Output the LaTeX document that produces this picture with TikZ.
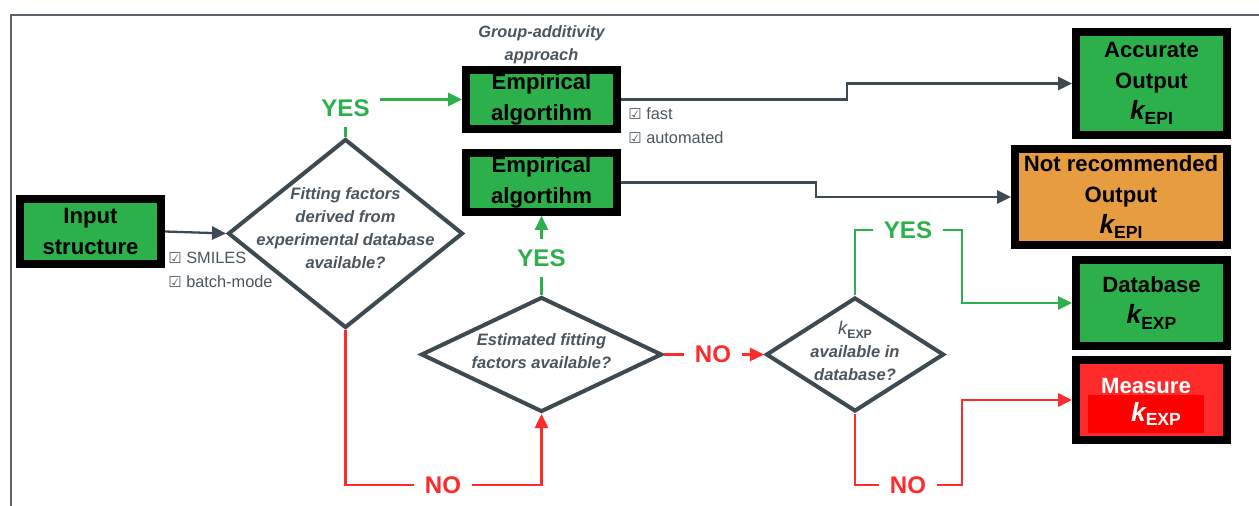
\documentclass[tikz,border=0pt]{standalone}
\usepackage{fontspec}
\setmainfont{Liberation Sans}
\newfontfamily\checkfont{DejaVu Sans}
\usetikzlibrary{positioning,shapes.geometric,arrows.meta}

\definecolor{boxgreen}{HTML}{2CB04B}
\definecolor{boxorange}{HTML}{E89C40}
\definecolor{boxred}{HTML}{FF2B2B}
\definecolor{kred}{HTML}{FF0000}
\definecolor{linegray}{HTML}{3E4A52}
\definecolor{textgray}{HTML}{4A555D}
\definecolor{framegray}{HTML}{5B646A}
\definecolor{yesgreen}{HTML}{2DB04B}
\definecolor{nored}{HTML}{FF2A2A}

\newcommand{\kval}[1]{{\fontsize{15}{15}\selectfont\bfseries\itshape k}\raisebox{-0.45ex}{\fontsize{10}{10}\selectfont\bfseries #1}}
\newcommand{\ticked}{{\checkfont\fontsize{8.5}{8.5}\selectfont ☑}}

\begin{document}
\begin{tikzpicture}[
  x = 0.02cm, y = -0.02cm,
  >={Triangle[length=8pt, width=7.5pt]},
  block/.style = {
    draw=black, rectangle, line width=4.5pt,
    fill=boxgreen, inner sep=0pt,
    align=center,
    font=\fontsize{12.6}{17.6}\selectfont\bfseries
  },
  decision/.style = {draw=linegray, diamond, line width=2.3pt, inner sep=0pt},
  question/.style = {text=textgray, align=center, font=\fontsize{9.4}{13}\selectfont\bfseries\itshape},
  note/.style = {text=textgray, align=left, inner sep=0pt, font=\fontsize{9.3}{13.6}\selectfont},
  yeslabel/.style = {text=yesgreen, inner sep=6pt, font=\fontsize{13.7}{14}\selectfont\bfseries},
  nolabel/.style = {yeslabel, text=nored},
  flow/.style = {draw=linegray, line width=1.3pt},
  yesflow/.style = {draw=yesgreen, line width=1.2pt},
  noflow/.style = {draw=nored, line width=1.2pt}
]

\useasboundingbox (0,0) rectangle (1259,506);
\draw[framegray, line width=1.2pt] (11,506) -- (11,15) -- (1259,15);

% boxes
\node[block, minimum width=2.82cm, minimum height=1.3cm] (in) at (90.5,231.5) {Input\\structure};
\node[block, minimum width=3.02cm, minimum height=1.18cm] (emp1) at (541.5,99.5) {Empirical\\algortihm};
\node[block, minimum width=3.02cm, minimum height=1.18cm, below=0.32cm of emp1] (emp2) {Empirical\\algortihm};
\node[block, minimum width=3.02cm, minimum height=2.06cm] (acc) at (1151.5,83.5) {Accurate\\Output\\\kval{EPI}};
\node[block, fill=boxorange, minimum width=4.24cm, minimum height=1.92cm] (nr) at (1121,197) {Not recommended\\Output\\\kval{EPI}};
\node[block, minimum width=3.02cm, minimum height=1.72cm] (db) at (1151.5,303) {Database\\\kval{EXP}};
\node[block, fill=boxred, minimum width=3.02cm, minimum height=1.6cm] (ms) at (1151.5,400) {};
\node[text=white, font=\fontsize{12.6}{14}\selectfont\bfseries] (mstext) at (1146,386) {Measure};
\node[fill=kred, text=white, inner sep=0pt, minimum width=2.32cm, minimum height=0.76cm] (mskexp) at (1146,414) {\hspace{0.4cm}\kval{EXP}};

% decisions
\node[decision, minimum width=4.7cm, minimum height=3.78cm] (d1) at (345.5,233.5) {};
\node[question] (q1) at (345.5,228) {Fitting factors\\derived from\\experimental database\\available?};
\node[decision, minimum width=4.82cm, minimum height=2.3cm] (d2) at (541.5,354.5) {};
\node[question] (q2) at (541.5,351) {Estimated fitting\\factors available?};
\node[decision, minimum width=3.56cm, minimum height=2.28cm] (d3) at (855,354.5) {};
\node[question] (q3) at (855,351) {{\fontsize{10.5}{10.5}\selectfont\mdseries\itshape k}\raisebox{-0.4ex}{\fontsize{7}{7}\selectfont\upshape EXP}\\available in\\database?};

% notes
\node[note, align=center, font=\fontsize{9.3}{13}\selectfont\bfseries\itshape, above=0.04cm of emp1] (grp) {Group-additivity\\approach};
\node[note, anchor=north west] (chk1) at (168,252) {\ticked\ SMILES\\\ticked\ batch-mode};
\node[note, anchor=north west] (chk2) at (628,107) {\ticked\ fast\\\ticked\ automated};

% yes / no labels
\node[yeslabel] (yes1) at (345.5,108) {YES};
\node[nolabel] (no1) at (443,485) {NO};
\node[yeslabel] (yes2) at (541.5,258) {YES};
\node[nolabel] (no2) at (713,354.5) {NO};
\node[yeslabel] (yes3) at (908,230) {YES};
\node[nolabel] (no3) at (908,485) {NO};

\coordinate (turn1) at (847,0);
\coordinate (turn2) at (816,0);
\coordinate (turn3) at (962,0);

% connectors
\draw[flow, ->] (in.east) -- (d1.west);
\draw[yesflow] (d1.north) -- (yes1.south);
\draw[yesflow, ->] (yes1.east |- emp1.west) -- (emp1.west);
\draw[noflow] (d1.south) |- (no1.west);
\draw[noflow, ->] (no1.east) -| (d2.south);
\draw[yesflow] (d2.north) -- (yes2.south);
\draw[yesflow, ->] (yes2.north) -- (emp2.south);
\draw[noflow] (d2.east) -- (no2.west);
\draw[noflow, ->] (no2.east) -- (d3.west);
\draw[yesflow] (d3.north) |- (yes3.west);
\draw[yesflow, ->] (yes3.east) -- (yes3.east -| turn3) |- (db.west);
\draw[noflow] (d3.south) |- (no3.west);
\draw[noflow, ->] (no3.east) -- (no3.east -| turn3) |- (ms.west);
\draw[flow, ->] (emp1.east) -- (emp1.east -| turn1) |- (acc.west);
\draw[flow, ->] (emp2.east) -- (emp2.east -| turn2) |- (nr.west);

\end{tikzpicture}
\end{document}
